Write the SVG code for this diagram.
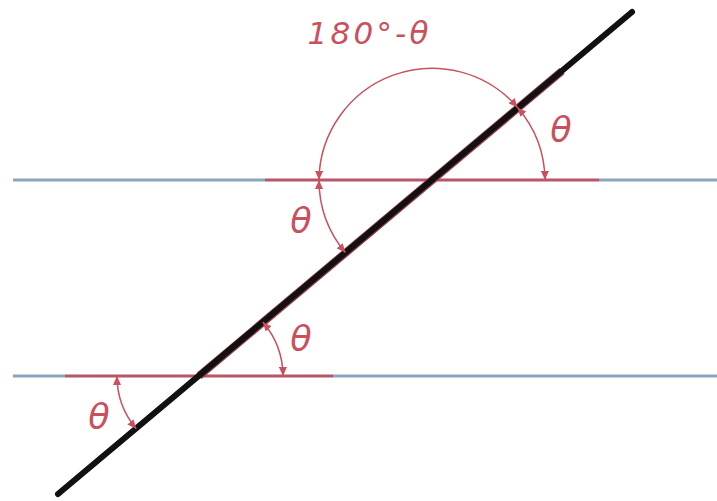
<svg xmlns="http://www.w3.org/2000/svg" width="717" height="501" viewBox="0 0 717 501">
<style>
.blue{stroke:#8ea3bd;stroke-width:3;fill:none}
.red{stroke:#c9505c;stroke-width:2.5;fill:none}
.arc{stroke:#c9505c;stroke-width:1.5;fill:none;marker-start:url(#ah);marker-end:url(#ah)}
.lbl{font-family:"DejaVu Sans",sans-serif;font-style:italic;fill:#c9505c;text-anchor:middle}
</style>
<defs>
<marker id="ah" markerUnits="userSpaceOnUse" markerWidth="10" markerHeight="8" refX="9" refY="4" orient="auto-start-reverse">
<path d="M0,0 L9,4 L0,8 z" fill="#c9505c"/>
</marker>
</defs>
<rect width="717" height="501" fill="#fff"/>
<g id="lines">
<line class="blue" x1="13" y1="180" x2="717" y2="180"/>
<line class="blue" x1="13" y1="376" x2="717" y2="376"/>
<line class="red" x1="265" y1="180" x2="599" y2="180"/>
<line class="red" x1="65" y1="376" x2="333" y2="376"/>
<line x1="199" y1="376" x2="562" y2="71" stroke="#9a3a44" stroke-width="8"/>
<line x1="58" y1="494" x2="632" y2="12" stroke="#111" stroke-width="6" stroke-linecap="round"/>
</g>
<g id="connectors">
<path class="arc" d="M517.5,107.4 A113,113 0 0 0 319,180"/>
<path class="arc" d="M517.5,107.4 A113,113 0 0 1 545,180"/>
<path class="arc" d="M319,180 A113,113 0 0 0 345.4,252.6"/>
<path class="arc" d="M283,376 A84,84 0 0 0 262.8,322"/>
<path class="arc" d="M117,376 A82,82 0 0 0 136.2,428.7"/>
</g>
<g id="labels">
<text class="lbl" x="368" y="44" font-size="31" textLength="121" lengthAdjust="spacing">180°-θ</text>
<text class="lbl" x="561" y="142" font-size="35">θ</text>
<text class="lbl" x="301" y="233" font-size="35">θ</text>
<text class="lbl" x="301" y="351" font-size="35">θ</text>
<text class="lbl" x="99" y="429" font-size="35">θ</text>
</g>
</svg>
